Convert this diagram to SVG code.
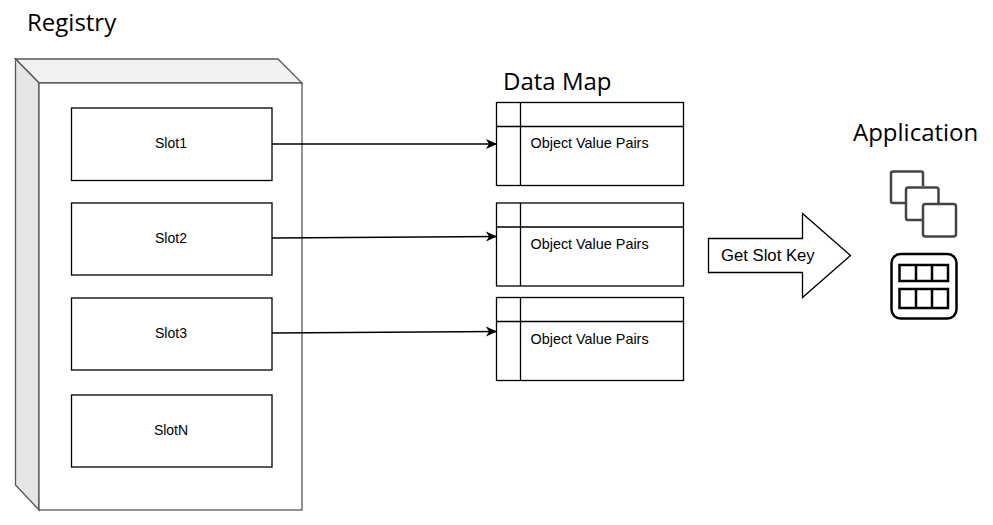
<svg xmlns="http://www.w3.org/2000/svg" width="993" height="525" viewBox="0 0 993 525">
<defs>
<style>
.b{fill:#fff;stroke:#000;stroke-width:1.300}
.c{fill:none;stroke:#000;stroke-width:1.300}
.t{font-family:"Open Sans","Noto Sans",sans-serif;font-size:24px;fill:#000}
.s{font-family:"Liberation Sans",Arial,sans-serif;font-size:14px;fill:#000}
.o{font-size:14.400px}
.m{text-anchor:middle}
</style>
<marker id="a" markerWidth="12" markerHeight="12" refX="11" refY="6" orient="auto" markerUnits="userSpaceOnUse"><path d="M0 1L11 6L0 11L3 6Z" fill="#000"/></marker>
</defs>
<rect width="993" height="525" fill="#fff"/>
<g id="registry">
<path d="M15.500 59H278L302 83H39Z" fill="#f1f1f1" stroke="#555" stroke-width="1.300"/>
<path d="M15.500 59L39 83V510L15.500 485Z" fill="#e5e5e5" stroke="#555" stroke-width="1.300"/>
<rect x="39" y="83" width="263" height="427" fill="#fff" stroke="#555" stroke-width="1.300"/>
<text class="t" x="27" y="31">Registry</text>
</g>
<g id="slot1"><rect class="b" x="71.500" y="108" width="200.500" height="72.500"/><text class="s m" x="171" y="148">Slot1</text></g>
<g id="slot2"><rect class="b" x="71.500" y="203" width="200.500" height="72"/><text class="s m" x="171" y="243">Slot2</text></g>
<g id="slot3"><rect class="b" x="71.500" y="298" width="200.500" height="72"/><text class="s m" x="171" y="338">Slot3</text></g>
<g id="slotN"><rect class="b" x="71.500" y="395" width="200.500" height="72"/><text class="s m" x="171" y="435">SlotN</text></g>
<g id="map1"><rect class="b" x="496.500" y="102.500" width="187" height="83"/><path class="c" d="M496.500 126.500H683.500M520.500 102.500V185.500"/><text class="s o" x="530.500" y="148">Object Value Pairs</text></g>
<g id="map2"><rect class="b" x="496.500" y="203" width="187" height="83"/><path class="c" d="M496.500 227H683.500M520.500 203V286"/><text class="s o" x="530.500" y="249">Object Value Pairs</text></g>
<g id="map3"><rect class="b" x="496.500" y="297.500" width="187" height="83"/><path class="c" d="M496.500 321.500H683.500M520.500 297.500V380.500"/><text class="s o" x="530.500" y="344">Object Value Pairs</text></g>
<text class="t" x="503" y="90">Data Map</text>
<g id="connectors">
<path class="c" marker-end="url(#a)" d="M272 144H497"/>
<path class="c" marker-end="url(#a)" d="M272 238L497 236.500"/>
<path class="c" marker-end="url(#a)" d="M272 333L497 331.500"/>
</g>
<g id="get-slot-key"><path class="b" d="M708.500 238.500H802.500V213.500L850.500 255.500L802.500 297.500V272.500H708.500Z"/><text x="721" y="261" font-family="Liberation Sans, Arial, sans-serif" font-size="16.700">Get Slot Key</text></g>
<g id="application">
<text class="t" x="853" y="141">Application</text>
<path d="M923 186V173.500Q923 171.500 921 171.500H893Q891 171.500 891 173.500V201Q891 203 893 203H905" fill="none" stroke="#444" stroke-width="2.500"/>
<path d="M938.500 203V190Q938.500 187.500 936.500 187.500H908Q906 187.500 906 190V218Q906 220 908 220H922" fill="none" stroke="#444" stroke-width="2.500"/>
<rect x="923" y="204" width="33" height="32.500" rx="2.500" fill="#fff" stroke="#444" stroke-width="2.500"/>
<rect x="891.500" y="254" width="65" height="64.500" rx="9" fill="#fff" stroke="#000" stroke-width="2.500"/>
<path d="M899.500 265H948V281H899.500ZM899.500 289H948V308H899.500ZM916 265V281M932 265V281M916 289V308M932 289V308" fill="none" stroke="#000" stroke-width="2.500"/>
</g>
</svg>
